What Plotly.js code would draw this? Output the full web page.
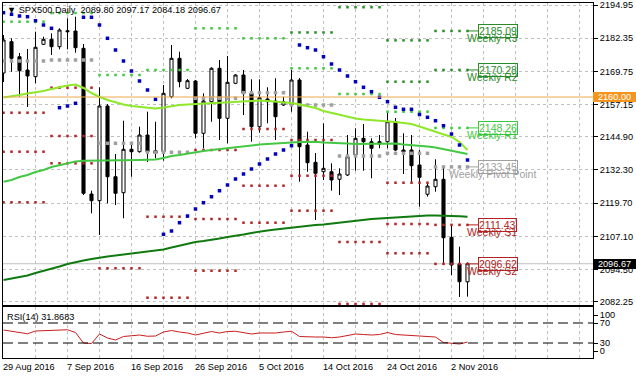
<!DOCTYPE html>
<html><head><meta charset="utf-8">
<script src="https://cdn.plot.ly/plotly-3.0.1.min.js"></script>
<style>html,body{margin:0;padding:0;background:#fff;}#chart{width:636px;height:379px;}</style>
</head><body><div id="chart"></div>
<script>
// ---- data (bar index 0 = 29 Aug 2016 ... 58 = 4 Nov 2016, incl. Sunday bars) ----
const dateLabels = ['29 Aug 2016','7 Sep 2016','16 Sep 2016','26 Sep 2016','5 Oct 2016','14 Oct 2016','24 Oct 2016','2 Nov 2016'];
const dateLabelBars = [0,8,16,24,32,40,48,56];
const openP = [2169.12,2181.01,2175.31,2170.26,2167.72,2180.02,2181.92,2179.11,2185.19,2185.07,2178.50,2123.16,2120.62,2156.59,2129.73,2123.65,2140.14,2139.23,2145.57,2139.61,2139.23,2160.12,2174.70,2163.31,2166.08,2146.22,2158.22,2170.91,2151.91,2165.21,2168.36,2161.41,2148.72,2159.25,2158.49,2156.97,2156.97,2166.46,2141.77,2135.20,2131.63,2131.63,2128.74,2130.38,2137.97,2144.32,2143.03,2143.03,2143.03,2150.62,2139.87,2139.87,2134.18,2123.05,2125.93,2128.74,2106.71,2096.57,2089.80];
const highP = [2183.56,2182.30,2176.72,2178.24,2184.81,2182.91,2184.20,2186.10,2189.90,2190.51,2180.14,2124.41,2163.69,2157.35,2138.35,2151.00,2142.65,2148.72,2154.42,2150.62,2164.56,2179.76,2177.21,2166.84,2166.46,2161.41,2171.30,2174.06,2175.58,2168.70,2170.26,2166.73,2166.73,2163.69,2167.11,2160.12,2170.26,2167.20,2146.82,2138.73,2150.02,2134.82,2132.92,2145.57,2148.12,2149.75,2144.32,2145.57,2154.42,2152.03,2146.22,2145.57,2139.87,2127.22,2136.34,2133.53,2111.77,2103.14,2097.17];
const lowP = [2165.70,2169.61,2160.12,2156.21,2165.21,2179.76,2175.96,2178.12,2178.12,2176.83,2122.78,2115.83,2107.59,2119.63,2118.98,2113.93,2129.73,2138.85,2135.33,2136.72,2135.81,2159.51,2163.69,2163.00,2144.32,2140.52,2150.62,2143.67,2142.42,2164.90,2153.17,2143.03,2146.44,2150.02,2143.67,2156.59,2154.42,2127.83,2131.63,2113.28,2128.48,2124.41,2122.78,2130.00,2132.01,2132.01,2129.12,2140.52,2140.52,2139.50,2130.76,2127.83,2118.34,2122.14,2124.03,2096.57,2092.39,2084.04,2084.18];
const closeP = [2181.66,2174.70,2169.99,2167.98,2178.88,2181.92,2179.11,2185.45,2184.81,2178.73,2123.43,2120.62,2156.59,2129.73,2123.43,2140.14,2139.23,2145.57,2139.23,2138.62,2161.41,2174.70,2165.82,2166.20,2146.22,2158.49,2170.91,2151.91,2165.59,2168.36,2161.41,2148.72,2159.74,2158.22,2152.52,2158.22,2166.46,2141.13,2135.05,2131.02,2132.92,2128.48,2130.76,2137.33,2144.32,2143.03,2140.52,2142.15,2150.62,2139.87,2139.11,2133.91,2129.50,2126.20,2128.74,2106.56,2096.19,2089.85,2096.67];
const maFast = [2159.82,2160.19,2160.76,2161.33,2161.71,2162.28,2163.04,2163.80,2164.37,2164.75,2163.42,2161.52,2160.00,2158.87,2157.92,2157.16,2156.59,2156.21,2155.83,2155.64,2156.02,2156.59,2156.97,2157.16,2157.35,2157.54,2157.73,2157.92,2158.11,2158.22,2158.49,2158.68,2158.68,2158.49,2158.30,2158.11,2157.73,2157.16,2156.59,2155.83,2154.69,2153.93,2153.17,2152.41,2151.84,2151.46,2151.27,2151.08,2150.70,2150.51,2150.13,2149.75,2148.80,2147.85,2146.90,2145.95,2144.81,2142.91,2139.87];
const maMid = [2127.83,2128.48,2129.62,2130.38,2131.52,2132.28,2133.42,2134.18,2134.94,2135.51,2135.81,2135.81,2135.81,2135.81,2135.81,2135.89,2136.00,2136.08,2136.15,2136.26,2136.83,2137.59,2137.97,2138.54,2139.11,2139.49,2139.87,2140.25,2140.63,2141.01,2141.28,2141.58,2141.96,2142.15,2142.42,2142.53,2142.72,2142.91,2142.91,2143.03,2142.72,2142.65,2142.53,2142.34,2142.15,2142.15,2142.23,2142.34,2142.42,2142.34,2141.96,2141.77,2141.58,2141.20,2140.82,2140.25,2139.49,2138.92,2138.35];
const maSlow = [2090.49,2091.06,2091.63,2092.20,2093.15,2093.91,2094.67,2095.62,2096.57,2097.33,2097.90,2098.47,2099.04,2099.42,2099.80,2100.18,2100.56,2100.94,2101.32,2101.70,2102.08,2102.84,2103.60,2104.36,2104.93,2105.31,2105.69,2106.26,2106.83,2107.21,2107.78,2108.35,2108.92,2109.30,2109.68,2110.06,2110.44,2110.82,2111.20,2111.39,2111.58,2111.96,2112.34,2112.71,2113.09,2113.28,2113.66,2113.85,2114.04,2114.23,2114.61,2114.80,2114.80,2114.99,2114.99,2114.99,2114.80,2114.69,2114.54];
const sar = [2192.03,2191.42,2190.77,2190.51,2188.99,2187.35,2186.10,2155.94,2156.59,2157.61,2190.28,2190.28,2187.35,2182.30,2177.86,2173.68,2169.88,2166.08,2162.66,2159.13,2107.85,2109.11,2112.26,2114.80,2117.46,2119.86,2122.13,2124.41,2126.58,2128.86,2130.76,2132.66,2134.56,2136.45,2138.35,2139.87,2141.51,2179.76,2178.73,2177.86,2175.31,2172.54,2170.26,2167.98,2165.82,2163.69,2162.02,2159.89,2158.22,2156.09,2155.33,2155.33,2153.36,2152.29,2151.00,2149.10,2145.95,2141.77,2136.07];
const rsi = [56,54,51,48.5,54,55,55,56,56.5,51,30,29,48,40,36,43,44,46,43.5,44,52,55,52,50,46,50,53,50,53,53.5,51,48,50,50,50,52,53.5,43,42,42,42,40.5,42,45.5,48,47,46,47,51,47,46,44.5,43,41.5,42,31,30,28,31.87];
// weekly pivot levels (one value per week, null = off chart)
const weekStart = [0,6,12,18,24,30,36,42,48,54];
const weekEnd   = [5,11,17,23,29,35,41,47,53,58];
const pivR3 = [null,null,null,null,null,null,null,null,2181.53,2185.09];
const pivR2 = [null,null,null,null,null,null,2184.52,2194.10,2165.82,2170.28];
const pivR1 = [2188.61,2191.90,2168.36,2170.26,2186.10,2182.30,2170.91,2161.14,2154.42,2148.26];
const pivP  = [2173.68,2174.06,2142.42,2139.00,2159.51,2161.64,2156.97,2137.59,2138.62,2133.45];
const pivS1 = [2154.04,2163.54,2094.94,2114.54,2139.87,2147.85,2143.67,2104.94,2127.45,2111.43];
const pivS2 = [2139.23,2145.19,null,2083.77,2113.66,2126.31,2130.11,2081.40,2111.77,2096.62];
const pivS3 = [2120.01,2134.82,null,null,2094.03,2112.26,2116.82,null,2100.64,null];
const pivNames = ['Weekly R3','Weekly R2','Weekly R1','Weekly Pivot Point','Weekly S1','Weekly S2','Weekly S3'];
const yTicks = [2194.95,2182.35,2169.75,2157.15,2144.90,2132.30,2119.70,2107.10,2094.50,2082.25];
const rsiTickLabels = ['100','70','30','0'];
const markLevel = 2160.00;
const lastPrice = 2096.67;
const titleText = '\u25BC SPX500,Daily  2089.80 2097.17 2084.18 2096.67';
const rsiText = 'RSI(14) 31.8683';

// ---- build ----
const bars = openP.map((_, i) => i);
const FONT = 'Liberation Sans, Arial, sans-serif';
const GREEN = '#2a8a2a', LIME = '#3cc83c', GRAY = '#a0a0a0', DRED = '#b22222';
const levelDefs = [
  {vals: pivR3, color: GREEN, size: 2.5},
  {vals: pivR2, color: GREEN, size: 2.5},
  {vals: pivR1, color: LIME, size: 2.5},
  {vals: pivP,  color: GRAY,  size: 3.5},
  {vals: pivS1, color: DRED,  size: 2.5},
  {vals: pivS2, color: DRED,  size: 2.5},
  {vals: pivS3, color: DRED,  size: 2.5}
];

const traces = [];
traces.push({
  type: 'candlestick', x: bars, open: openP, high: highP, low: lowP, close: closeP,
  xaxis: 'x', yaxis: 'y', whiskerwidth: 0, hoverinfo: 'skip',
  increasing: {line: {color: '#000', width: 1}, fillcolor: '#fff'},
  decreasing: {line: {color: '#000', width: 1}, fillcolor: '#000'}
});
levelDefs.forEach(ld => {
  const xs = [], ys = [];
  ld.vals.forEach((v, w) => {
    if (v === null) return;
    for (let i = weekStart[w]; i <= weekEnd[w]; i++) { xs.push(i); ys.push(v); }
  });
  traces.push({type: 'scatter', mode: 'markers', x: xs, y: ys, hoverinfo: 'skip',
    marker: {symbol: 'square', size: ld.size, color: ld.color, line: {width: 0}}, cliponaxis: true});
});
traces.push({type: 'scatter', mode: 'lines', x: bars, y: maSlow, line: {color: '#107a10', width: 2}, hoverinfo: 'skip'});
traces.push({type: 'scatter', mode: 'lines', x: bars, y: maMid, line: {color: '#44c844', width: 2}, hoverinfo: 'skip'});
traces.push({type: 'scatter', mode: 'lines', x: bars, y: maFast, line: {color: '#8ee82a', width: 2}, hoverinfo: 'skip'});
traces.push({type: 'scatter', mode: 'markers', x: bars, y: sar, hoverinfo: 'skip',
  marker: {symbol: 'square', size: 3.5, color: '#0000c0', line: {width: 0}}});
traces.push({type: 'scatter', mode: 'lines', x: bars, y: rsi, xaxis: 'x', yaxis: 'y2',
  line: {color: '#c81e1e', width: 1}, hoverinfo: 'skip'});

const gridBars = [];
for (let i = 4; i <= 72; i += 4) gridBars.push(i);

const shapes = [
  {type: 'line', xref: 'paper', x0: 0, x1: 1, yref: 'y', y0: lastPrice, y1: lastPrice, line: {color: '#c0c0c0', width: 1}, layer: 'below'},
  {type: 'line', xref: 'paper', x0: 0, x1: 1, yref: 'y', y0: markLevel, y1: markLevel, line: {color: '#eea84a', width: 1}, layer: 'above'},
  {type: 'line', xref: 'paper', x0: 0, x1: 1, yref: 'y2', y0: 70, y1: 70, line: {color: '#000', width: 1, dash: '10px,5px'}},
  {type: 'line', xref: 'paper', x0: 0, x1: 1, yref: 'y2', y0: 30, y1: 30, line: {color: '#000', width: 1, dash: '10px,5px'}}
];

const annotations = [];
annotations.push({xref: 'paper', x: 0, xanchor: 'left', xshift: 3, yref: 'paper', y: 1, yanchor: 'middle', yshift: -7,
  text: titleText, showarrow: false, font: {family: FONT, size: 9.2, color: '#000'}, borderpad: 0});
annotations.push({xref: 'paper', x: 0, xanchor: 'left', xshift: 3, yref: 'y2 domain', y: 1, yanchor: 'middle', yshift: -10,
  text: rsiText, showarrow: false, font: {family: FONT, size: 9.2, color: '#000'}, borderpad: 0});
dateLabels.forEach((t, k) => {
  annotations.push({xref: 'x', x: dateLabelBars[k], xanchor: 'left', xshift: -2, yref: 'paper', y: 0, yanchor: 'top', yshift: -3,
    text: t, showarrow: false, font: {family: FONT, size: 9.2, color: '#000'}, borderpad: 0});
});
annotations.push({xref: 'paper', x: 1, xanchor: 'left', yref: 'y', y: markLevel, yanchor: 'middle',
  text: markLevel.toFixed(2), showarrow: false, bgcolor: '#f7941d', borderwidth: 0, borderpad: 0, width: 43, height: 10, align: 'center',
  font: {family: FONT, size: 9.2, color: '#fff'}});
annotations.push({xref: 'paper', x: 1, xanchor: 'left', yref: 'y', y: lastPrice, yanchor: 'middle',
  text: lastPrice.toFixed(2), showarrow: false, bgcolor: '#000', borderwidth: 0, borderpad: 0, width: 43, height: 10, align: 'center',
  font: {family: FONT, size: 9.2, color: '#fff'}});

const lastW = weekStart.length - 1;
const lastBar = bars[bars.length - 1];
levelDefs.forEach((ld, k) => {
  const v = ld.vals[lastW];
  if (v === null) return;
  shapes.push({type: 'line', xref: 'x', x0: lastBar, x1: lastBar + 1.35, yref: 'y', y0: v, y1: v, line: {color: ld.color, width: 1}});
  annotations.push({xref: 'x', x: lastBar + 1.35, xanchor: 'left', yref: 'y', y: v, yanchor: 'middle',
    text: v.toFixed(2), showarrow: false, bordercolor: ld.color, borderwidth: 1, borderpad: 0,
    font: {family: FONT, size: 10.5, color: ld.color}});
  annotations.push({xref: 'x', x: lastBar + 3.1, xanchor: 'center', yref: 'y', y: v, yanchor: 'top', yshift: 0,
    text: pivNames[k], showarrow: false, borderpad: 0,
    font: {family: FONT, size: 10.5, color: ld.color}});
});

const layout = {
  width: 636, height: 379,
  margin: {l: 3, r: 43, t: 3, b: 21, pad: 0},
  paper_bgcolor: '#fff', plot_bgcolor: '#fff',
  showlegend: false, boxgap: 0.45, hovermode: false,
  font: {family: FONT, size: 9.2, color: '#000'},
  xaxis: {
    range: [-0.0625, 73.6875], anchor: 'y2', domain: [0, 1],
    showline: true, linecolor: '#000', linewidth: 1, mirror: 'all',
    tickvals: gridBars, showticklabels: false, ticks: '',
    showgrid: true, gridcolor: '#c0c0c0', griddash: '3px,3px', gridwidth: 1,
    zeroline: false, rangeslider: {visible: false}, fixedrange: true
  },
  yaxis: {
    domain: [0.1493, 1], range: [2081.0, 2195.71], side: 'right',
    tickvals: yTicks, ticktext: yTicks.map(v => v.toFixed(2)),
    ticks: 'outside', ticklen: 4, tickcolor: '#000', tickfont: {family: FONT, size: 9.2, color: '#000'},
    showline: true, mirror: true, linecolor: '#000', linewidth: 1,
    showgrid: true, gridcolor: '#c0c0c0', griddash: '3px,3px', gridwidth: 1,
    zeroline: false, fixedrange: true
  },
  yaxis2: {
    domain: [0, 0.145], range: [0, 103], side: 'right', anchor: 'x',
    tickvals: [86, 70, 30, 14], ticktext: rsiTickLabels,
    ticks: 'outside', ticklen: 4, tickcolor: '#000', tickfont: {family: FONT, size: 9.2, color: '#000'},
    showline: true, mirror: true, linecolor: '#000', linewidth: 1,
    showgrid: false, zeroline: false, fixedrange: true
  },
  shapes: shapes,
  annotations: annotations
};

Plotly.newPlot('chart', traces, layout, {staticPlot: true, displayModeBar: false});
</script>
</body></html>
